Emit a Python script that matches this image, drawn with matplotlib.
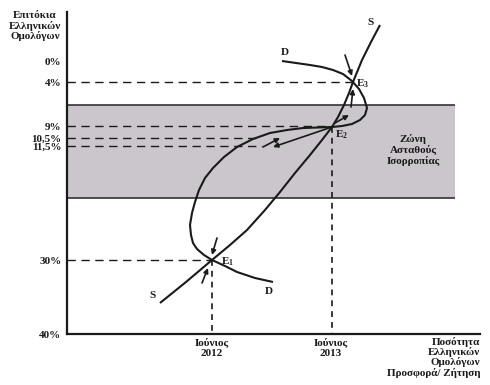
import matplotlib
matplotlib.use("Agg")
import matplotlib.pyplot as plt

plt.rcParams['font.family'] = ['Liberation Serif', 'DejaVu Serif']
plt.rcParams['font.weight'] = 'bold'
plt.rcParams['mathtext.default'] = 'regular'

# y axis: interest rate labels and their position on the (non-linear) axis
rate_labels = ['0%', '4%', '9%', '10,5%', '11,5%', '30%', '40%']
rate_pos = [61, 82, 126, 138, 146, 260, 334]

# x axis: quantity ticks
qty_labels = ['Ιούνιος\n2012', 'Ιούνιος\n2013']
qty_pos = [212, 331]

# supply curve S
s_x = [160, 186, 212, 230, 247, 265, 280, 295, 310, 322, 332, 338, 344, 349, 353, 362, 371, 380]
s_y = [303, 282, 260, 245, 230, 210, 192, 173, 155, 140, 127, 117, 105, 93, 82, 60, 42, 25]

# demand curve D
d_x = [282, 296, 310, 322, 333, 343, 352, 359, 364, 367, 365, 360, 352, 342, 332, 318, 303, 287,
       270, 253, 237, 224, 213, 205, 199, 195, 192, 190, 191, 193, 197, 204, 212, 225, 237, 255, 273]
d_y = [61, 63, 65, 67, 70, 74, 81, 89, 98, 108, 115, 120, 124, 126, 127, 127.5, 128, 130,
       133, 139, 147, 157, 168, 178, 190, 202, 213, 225, 235, 243, 249, 255, 260, 266, 272, 278, 282]

# equilibria
eq_names = ['1', '2', '3']
eq_x = [212, 332, 353]
eq_y = [260, 127, 82]

# instability zone (rates between these positions)
zone_top, zone_bottom, zone_right = 105, 198, 455

# dashed guide lines: (rate position, x end)
guide_rates = [82, 126, 138, 146, 260]
guide_ends = [352, 332, 258, 262, 212]

# adjustment arrows (start -> end)
arrows = [((217, 238), (212, 255)),
          ((202, 283), (208, 268)),
          ((332, 127), (273, 147)),
          ((263, 147), (280, 138)),
          ((335, 123), (349, 115)),
          ((351, 107), (353, 89)),
          ((345, 55), (352, 76))]

fig = plt.figure(figsize=(4.9, 3.85), dpi=100)
ax = fig.add_axes([67 / 490, (385 - 334) / 385, (480 - 67) / 490, (334 - 12) / 385])
ax.set_xlim(67, 480)
ax.set_ylim(334, 12)

ink = '#1a1a1a'
fs = 8
ax.spines['top'].set_visible(False)
ax.spines['right'].set_visible(False)
ax.spines['left'].set_linewidth(1.6)
ax.spines['bottom'].set_linewidth(1.6)
ax.spines['left'].set_color(ink)
ax.spines['bottom'].set_color(ink)

# shaded zone
ax.fill_between([67, zone_right], zone_top, zone_bottom, color='#cbc6cc', lw=0, zorder=0)
ax.hlines([zone_top, zone_bottom], 67, zone_right, color='#333333', lw=1.2, zorder=1)
ax.text(413, 150, 'Ζώνη\nΑσταθούς\nΙσορροπίας', ha='center', va='center',
        fontsize=fs, color=ink, linespacing=1.1)

# guide lines
for r, xe in zip(guide_rates, guide_ends):
    ax.plot([67, xe], [r, r], color=ink, lw=1.0, dashes=(6, 4), zorder=2)
for xq, yq in zip(eq_x[:2], eq_y[:2]):
    ax.plot([xq, xq], [yq, 334], color=ink, lw=1.2, dashes=(3.5, 3), zorder=2)

# curves
ax.plot(s_x, s_y, color=ink, lw=1.5, zorder=3, solid_capstyle='butt')
ax.plot(d_x, d_y, color=ink, lw=1.5, zorder=3, solid_capstyle='butt')

for (x0, y0), (x1, y1) in arrows:
    ax.annotate('', xy=(x1, y1), xytext=(x0, y0),
                arrowprops=dict(arrowstyle='-|>', color=ink, lw=1.2,
                                mutation_scale=7, shrinkA=0, shrinkB=0), zorder=4)

# labels on curves
ax.text(371, 22, 'S', fontsize=fs, ha='center', va='center', color=ink)
ax.text(153, 296, 'S', fontsize=fs, ha='center', va='center', color=ink)
ax.text(285, 52, 'D', fontsize=fs, ha='center', va='center', color=ink)
ax.text(269, 291, 'D', fontsize=fs, ha='center', va='center', color=ink)
offsets = [(9, 2), (3, 8), (3, 2)]
for n, xq, yq, (dx, dy) in zip(eq_names, eq_x, eq_y, offsets):
    ax.text(xq + dx, yq + dy, r'$\mathregular{E_%s}$' % n, fontsize=fs,
            ha='left', va='center', color=ink)

# axes ticks
ax.set_yticks(rate_pos)
ax.set_yticklabels(rate_labels, fontsize=fs, color=ink)
ax.set_xticks(qty_pos)
ax.set_xticklabels(qty_labels, fontsize=fs, color=ink, linespacing=1.05)
ax.tick_params(axis='y', length=0, pad=4)
ax.tick_params(axis='x', length=0, pad=3)

ax.text(35, 26, 'Επιτόκια\nΕλληνικών\nΟμολόγων', ha='center', va='center',
        fontsize=fs, color=ink, clip_on=False, linespacing=1.1)
ax.text(480, 337, 'Ποσότητα\nΕλληνικών\nΟμολόγων\nΠροσφορά/ Ζήτηση', ha='right', va='top',
        fontsize=fs, color=ink, clip_on=False, linespacing=1.02)

fig.savefig('out.png', dpi=100, facecolor='white')
